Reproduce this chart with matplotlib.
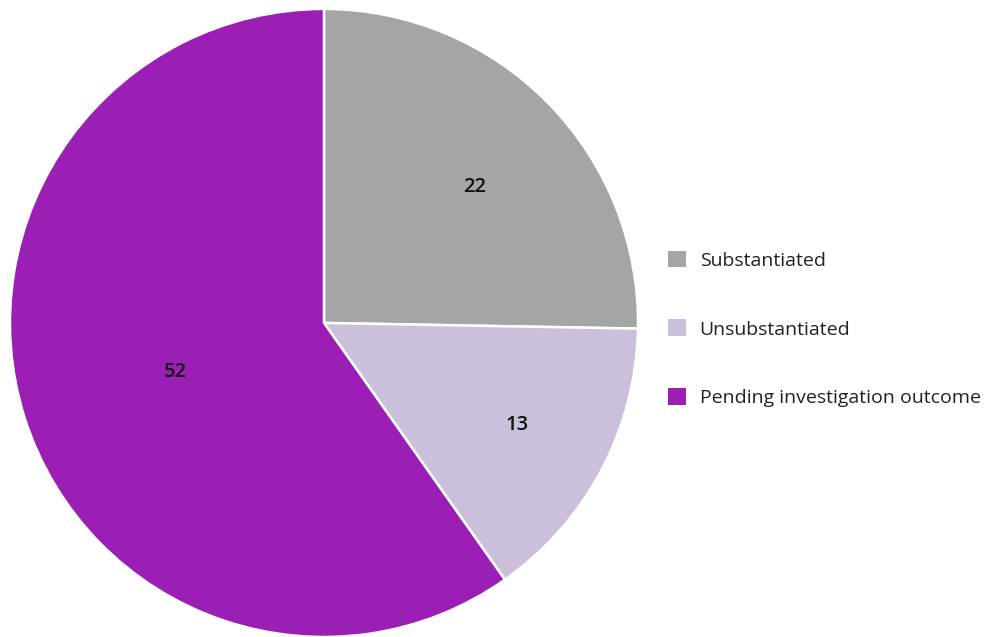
import numpy as np
import matplotlib
matplotlib.use('Agg')
import matplotlib.pyplot as plt
from matplotlib.patches import Patch

categories = ['Substantiated', 'Unsubstantiated', 'Pending investigation outcome']
counts = [22, 13, 52]
colors = ['#a5a5a5', '#cac0dc', '#9b1fb5']
# label placement per wedge: (angle in degrees, radius as fraction of pie)
label_pos = [(42.0, 0.647), (-27.9, 0.695), (198.2, 0.50)]

plt.rcParams['font.family'] = ['Open Sans', 'DejaVu Sans']

fig = plt.figure(figsize=(9.86, 6.37), dpi=100)
ax = fig.add_axes([0.0101, 0.0, 0.637, 0.986])
wedges, _ = ax.pie(counts, colors=colors, startangle=90, counterclock=False,
                   radius=1.0,
                   wedgeprops=dict(edgecolor='white', linewidth=1.8))
ax.set_xlim(-1, 1)
ax.set_ylim(-1, 1)
ax.set_aspect('equal')

for val, (ang, r) in zip(counts, label_pos):
    a = np.deg2rad(ang)
    ax.text(r * np.cos(a), r * np.sin(a), str(val), ha='center', va='center',
            fontsize=14.5, fontweight='semibold', color='#111111')

handles = [Patch(facecolor=c, edgecolor='none') for c in colors]
fig.legend(handles, categories, loc='center left',
           bbox_to_anchor=(0.677, 0.4835), frameon=False, fontsize=14,
           handlelength=0.95, handleheight=0.95, handletextpad=0.7,
           labelspacing=2.56, borderaxespad=0, borderpad=0,
           labelcolor='#222222')

fig.savefig('out.png', dpi=100)
